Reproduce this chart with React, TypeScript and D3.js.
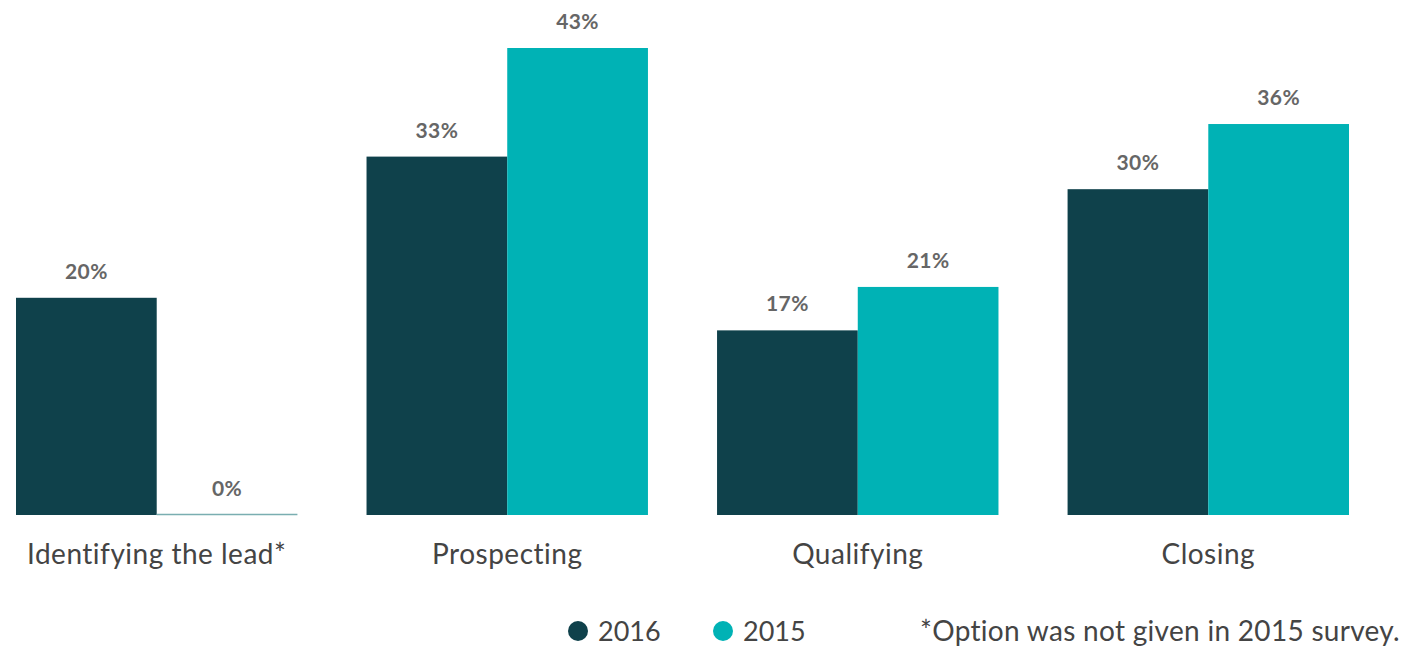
import React from "react";
import * as d3 from "d3";

const categories = ["Identifying the lead*", "Prospecting", "Qualifying", "Closing"];
const series = ["2016", "2015"];
const values2016 = [20, 33, 17, 30];
const values2015 = [0, 43, 21, 36];
const footnote = "*Option was not given in 2015 survey.";

const W = 1404;
const H = 648;
const colors: Record<string, string> = { "2016": "#0f414b", "2015": "#00b2b5" };
const FONT = "Lato, 'Open Sans', sans-serif";

export default function App() {
  const x0 = d3.scaleBand<string>().domain(categories).range([16, 1349]).paddingInner(69 / 350).paddingOuter(0);
  const x1 = d3.scaleBand<string>().domain(series).range([0, x0.bandwidth()]);
  const y = d3.scaleLinear().domain([0, 43]).range([515, 48]);
  const rows = categories.map((c, i) => ({ c, v: { "2016": values2016[i], "2015": values2015[i] } as Record<string, number> }));
  return (
    <svg width={W} height={H} style={{ position: "absolute", left: 0, top: 0, background: "#fff" }}>
      {rows.map((r) => (
        <g key={r.c} transform={`translate(${x0(r.c)},0)`}>
          {series.map((s) => {
            const v = r.v[s];
            const bx = x1(s)!;
            const bw = x1.bandwidth();
            return (
              <g key={s}>
                {v > 0 ? (
                  <rect x={bx} y={y(v)} width={bw} height={y(0) - y(v)} fill={colors[s]} />
                ) : (
                  <line x1={bx} x2={bx + bw} y1={y(0) - 0.5} y2={y(0) - 0.5} stroke="#7aaeb1" strokeWidth={1.5} />
                )}
                <text x={bx + bw / 2} y={y(v) - 19} textAnchor="middle" fontFamily={FONT} fontWeight={700} fontSize={21} letterSpacing={0.4} fill="#666">
                  {v}%
                </text>
              </g>
            );
          })}
          <text x={x0.bandwidth() / 2} y={564} textAnchor="middle" fontFamily={FONT} fontSize={28} letterSpacing={0.5} fill="#444">
            {r.c}
          </text>
        </g>
      ))}
      {series.map((s, i) => (
        <g key={s} transform={`translate(${578 + i * 145},631)`}>
          <circle r={10} fill={colors[s]} />
          <text x={20} y={10} fontFamily={FONT} fontSize={27} fill="#444">{s}</text>
        </g>
      ))}
      <text x={1400} y={641} textAnchor="end" fontFamily={FONT} fontSize={28} letterSpacing={0.3} fill="#444">{footnote}</text>
    </svg>
  );
}
